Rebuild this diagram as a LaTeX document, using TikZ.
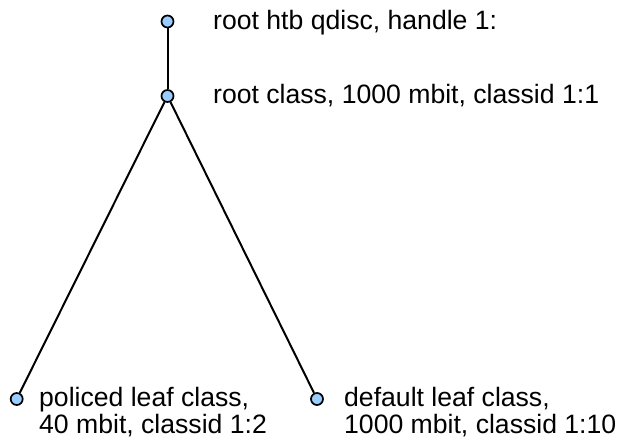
\documentclass[tikz,border=0pt]{standalone}
\usepackage{fontspec}
\setmainfont{Liberation Sans}
\begin{document}
\begin{tikzpicture}[x=1pt,y=-1pt,
  dot/.style={circle,draw=black,fill={rgb,255:red,153;green,204;blue,255},line width=1.7pt,minimum size=12pt,inner sep=0pt},
  lbl/.style={anchor=base west,inner sep=0pt,align=left,font=\fontsize{26.6}{27}\selectfont},
  edge/.style={line width=2pt}]
\useasboundingbox (0,0) rectangle (617,440);
\node[dot] (q) at (167.5,21.5) {};
\node[dot] (r) at (167.5,96) {};
\node[dot] (p) at (16.7,399) {};
\node[dot] (d) at (317,399) {};
\draw[edge] (q) -- (r);
\draw[edge] (r) -- (p);
\draw[edge] (r) -- (d);
\node[lbl] (tq) at (213,29.5) {root htb qdisc, handle 1:};
\node[lbl] (tr) at (213,103.5) {root class, 1000 mbit, classid 1:1};
\node[lbl] (tp) at (39,433) {policed leaf class,\\40 mbit, classid 1:2};
\node[lbl] (td) at (344,433) {default leaf class,\\1000 mbit, classid 1:10};
\end{tikzpicture}
\end{document}
